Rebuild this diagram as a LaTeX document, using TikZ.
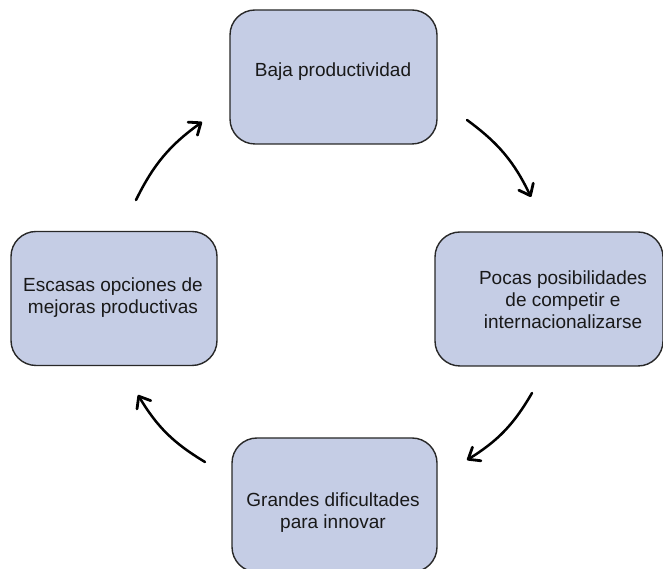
\documentclass[tikz,border=0pt]{standalone}
\usepackage{fontspec}
\setmainfont{Liberation Sans}
\usetikzlibrary{arrows.meta}
\definecolor{boxfill}{RGB}{197,205,229}
\definecolor{boxline}{RGB}{40,40,40}
\begin{document}
\begin{tikzpicture}[x=1pt,y=1pt,
  box/.style={draw=boxline, line width=1.4pt, fill=boxfill, rounded corners=25pt, minimum height=134pt, inner sep=0pt},
  txt/.style={font=\fontsize{19}{22}\selectfont, align=center, inner sep=0pt, text=black!90},
  cyc/.style={line width=2.5pt, line cap=round, bend left=14, -{Straight Barb[length=10pt,width=16pt,line width=2.8pt,round]}}]
\useasboundingbox (0,0) rectangle (663,569);
\clip (0,0) rectangle (663,569);
% boxes
\node[box, minimum width=207pt] (top) at (333.5,492) {};
\node[box, minimum width=228pt] (right) at (549,270) {};
\node[box, minimum width=205pt] (bottom) at (334.5,64) {};
\node[box, minimum width=206pt] (left) at (114,270.5) {};
% texts
\node[txt] (ttop) at (333,497) {Baja productividad};
\node[txt] (tright) at (563,269) {Pocas posibilidades\\de competir e\\internacionalizarse};
\node[txt] (tbottom) at (333,56) {Grandes dificultades\\para innovar};
\node[txt] (tleft) at (113,271.5) {Escasas opciones de\\mejoras productivas};
% arrow end points
\coordinate (a1s) at (467,449);
\coordinate (a1e) at (531,372);
\coordinate (a2s) at (532,176);
\coordinate (a2e) at (467,109);
\coordinate (a3s) at (205,107);
\coordinate (a3e) at (138,174);
\coordinate (a4s) at (136,369);
\coordinate (a4e) at (202,447);
\draw[cyc] (a1s) to (a1e);
\draw[cyc] (a2s) to (a2e);
\draw[cyc] (a3s) to (a3e);
\draw[cyc] (a4s) to (a4e);
\end{tikzpicture}
\end{document}
